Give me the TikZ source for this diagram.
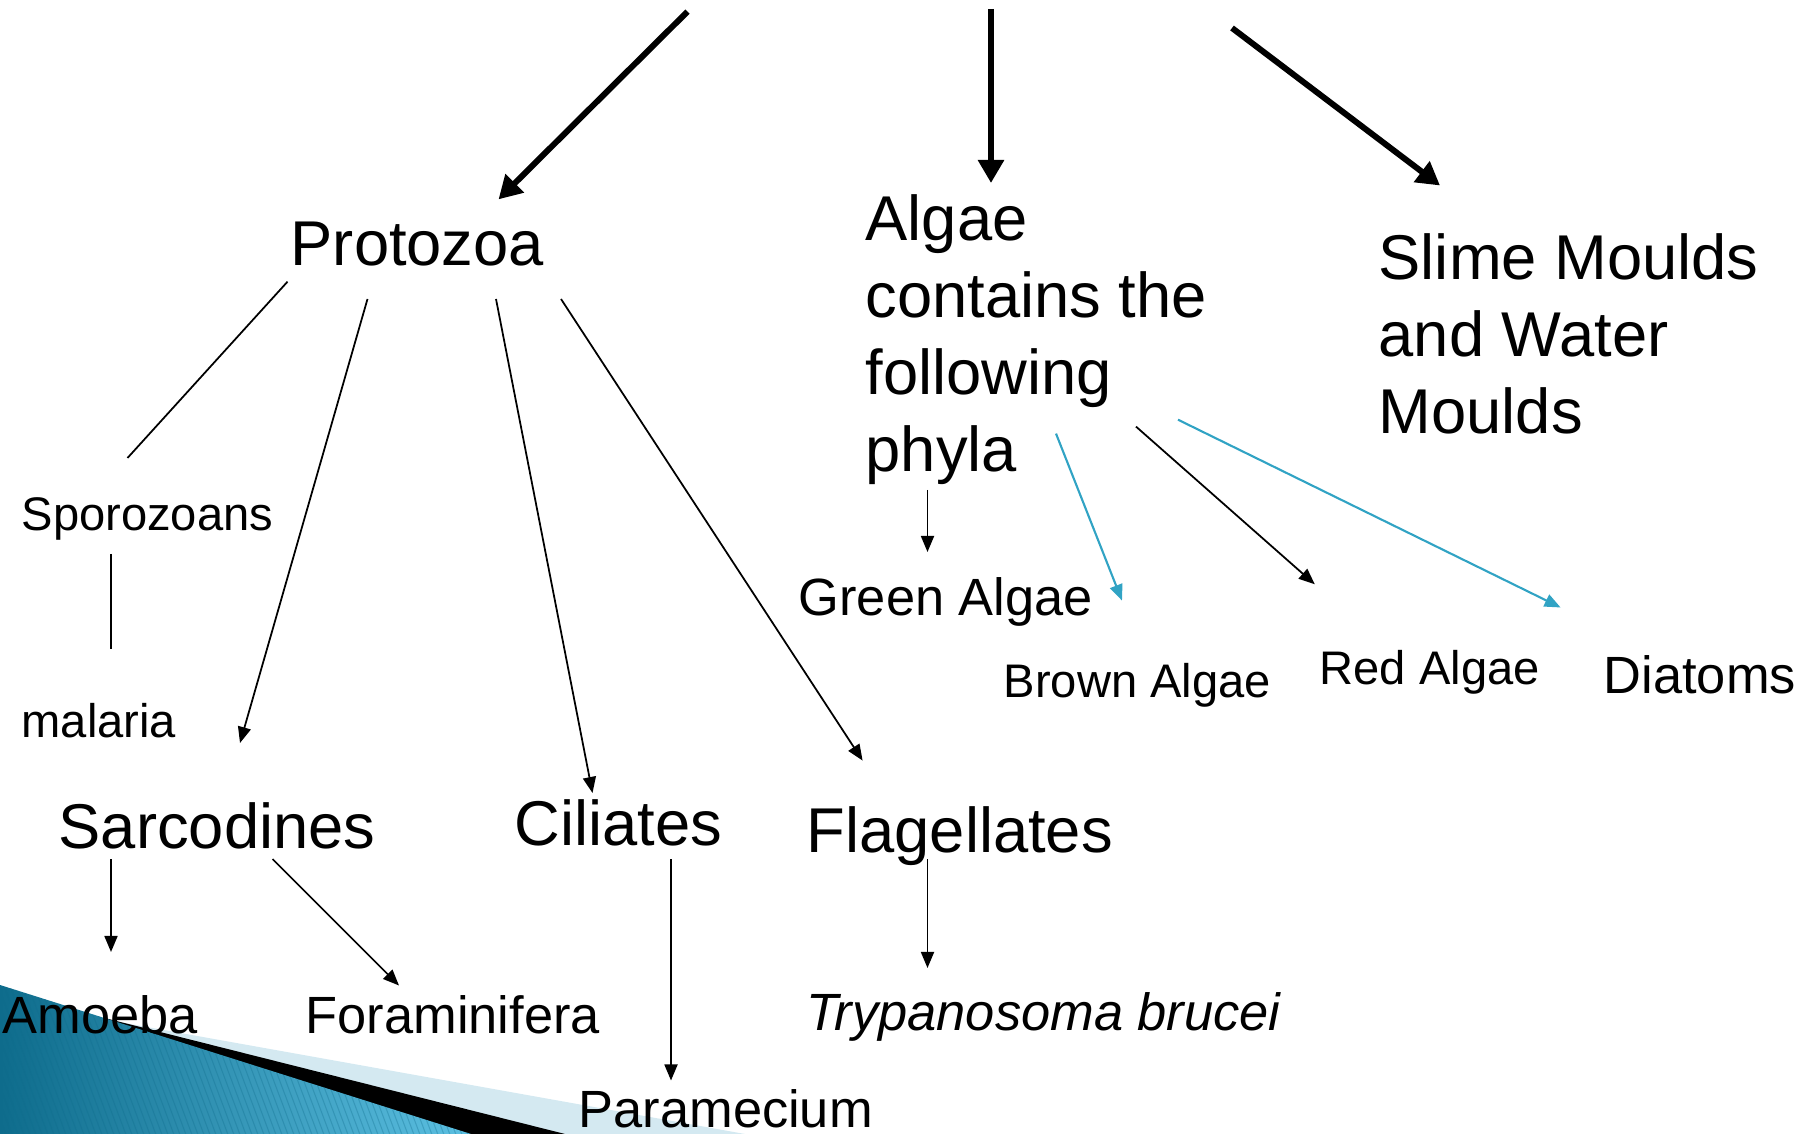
\documentclass[tikz,border=0pt]{standalone}
\usepackage{fontspec}
\setmainfont{Liberation Sans}
\usetikzlibrary{arrows.meta}

\definecolor{algblue}{HTML}{31A3C4}
\definecolor{tealdark}{HTML}{0E6C8C}
\definecolor{teallight}{HTML}{5CC0E2}
\definecolor{paleblue}{HTML}{D4E9F1}

\tikzset{
	bigtext/.style={font=\fontsize{18}{21.9}\selectfont, anchor=base west, inner sep=0pt, align=left},
	midtext/.style={font=\fontsize{14.9}{18}\selectfont, anchor=base west, inner sep=0pt},
	smalltext/.style={font=\fontsize{13.4}{16}\selectfont, anchor=base west, inner sep=0pt},
	bigarrow/.style={line width=1.7pt, -{Triangle[length=0.23cm,width=0.25cm]}},
	thinarrow/.style={line width=0.5pt, -{Triangle[length=0.16cm,width=0.13cm]}},
	bluearrow/.style={thinarrow, line width=0.6pt, draw=algblue},
	link/.style={line width=0.5pt},
	stripe/.style={line width=0.3pt, draw=tealdark, opacity=0.3}
}

\begin{document}
\begin{tikzpicture}[x=0.01cm, y=-0.01cm]
	\useasboundingbox (0,0) rectangle (1818,1134);

	% corner swoosh
	\fill[paleblue] (123,1022.7) -- (745,1134) -- (0,1134) -- cycle;
	\fill[black] (103,1017.6) -- (565,1134) -- (0,1134) -- cycle;
	\shade[left color=tealdark, right color=teallight] (0,985) -- (471,1134) -- (0,1134) -- cycle;
	\begin{scope}
		\clip (0,985) -- (471,1134) -- (0,1134) -- cycle;
		\foreach \x in {-150,-144,...,480}
			\draw[stripe] (\x,975) -- ++(62,165);
	\end{scope}

	% groups (multi-line nodes sit on their last line)
	\node[bigtext] (protozoa) at (290,266) {Protozoa};
	\node[bigtext] (algae) at (865,472) {Algae\\contains the\\following\\phyla};
	\node[bigtext] (slime) at (1378,434) {Slime Moulds\\and Water\\Moulds};

	% protozoa branch
	\node[smalltext] (sporozoans) at (21,531) {Sporozoans};
	\node[smalltext] (malaria) at (21,738) {malaria};
	\node[bigtext] (sarcodines) at (58,848) {Sarcodines};
	\node[bigtext] (ciliates) at (514,845) {Ciliates};
	\node[bigtext] (flagellates) at (806,852) {Flagellates};
	\node[midtext] (amoeba) at (2,1033) {Amoeba};
	\node[midtext] (foraminifera) at (305,1033) {Foraminifera};
	\node[midtext] (paramecium) at (578,1127) {Paramecium};
	\node[midtext] (trypanosoma) at (806,1030) {\itshape Trypanosoma brucei};

	% algae branch
	\node[midtext] (greenalgae) at (798,616) {Green Algae};
	\node[smalltext] (brownalgae) at (1003,698) {Brown Algae};
	\node[smalltext] (redalgae) at (1319,685) {Red Algae};
	\node[midtext] (diatoms) at (1603,694) {Diatoms};

	\coordinate (srcleft) at (687.5,11.6);
	\coordinate (srcmid) at (991,9);
	\coordinate (srcright) at (1232,28);

	\draw[bigarrow] (srcleft) -- ([shift={(208.5,-66.6)}]protozoa.base west);
	\draw[bigarrow] (srcmid) -- ([shift={(126,-289)}]algae.base west);
	\draw[bigarrow] (srcright) -- ([shift={(62,-248.5)}]slime.base west);

	\draw[link] ([shift={(-2.5,15.7)}]protozoa.base west) -- ([shift={(106.5,-73)}]sporozoans.base west);
	\draw[link] ([shift={(90,23)}]sporozoans.base west) -- ([shift={(90,-89)}]malaria.base west);
	\draw[thinarrow] ([shift={(77.5,33)}]protozoa.base west) -- ([shift={(182,-105)}]sarcodines.base west);
	\draw[thinarrow] ([shift={(206,33)}]protozoa.base west) -- ([shift={(78.5,-52)}]ciliates.base west);
	\draw[thinarrow] ([shift={(271,33)}]protozoa.base west) -- ([shift={(56.6,-91.4)}]flagellates.base west);

	\draw[thinarrow] ([shift={(53,11)}]sarcodines.base west) -- ([shift={(109,-81)}]amoeba.base west);
	\draw[thinarrow] ([shift={(214.5,11)}]sarcodines.base west) -- ([shift={(94,-47.5)}]foraminifera.base west);
	\draw[thinarrow] ([shift={(157,14)}]ciliates.base west) -- ([shift={(93,-46.5)}]paramecium.base west);
	\draw[thinarrow] ([shift={(121.5,7)}]flagellates.base west) -- ([shift={(121.5,-62)}]trypanosoma.base west);

	\draw[thinarrow] ([shift={(62.5,18)}]algae.base west) -- ([shift={(129.5,-64)}]greenalgae.base west);
	\draw[bluearrow] ([shift={(191,-38.4)}]algae.base west) -- ([shift={(119,-97.4)}]brownalgae.base west);
	\draw[thinarrow] ([shift={(271,-45.4)}]algae.base west) -- ([shift={(-4.2,-100.7)}]redalgae.base west);
	\draw[bluearrow] ([shift={(313,-52.3)}]algae.base west) -- ([shift={(-42.4,-86.5)}]diatoms.base west);
\end{tikzpicture}
\end{document}
